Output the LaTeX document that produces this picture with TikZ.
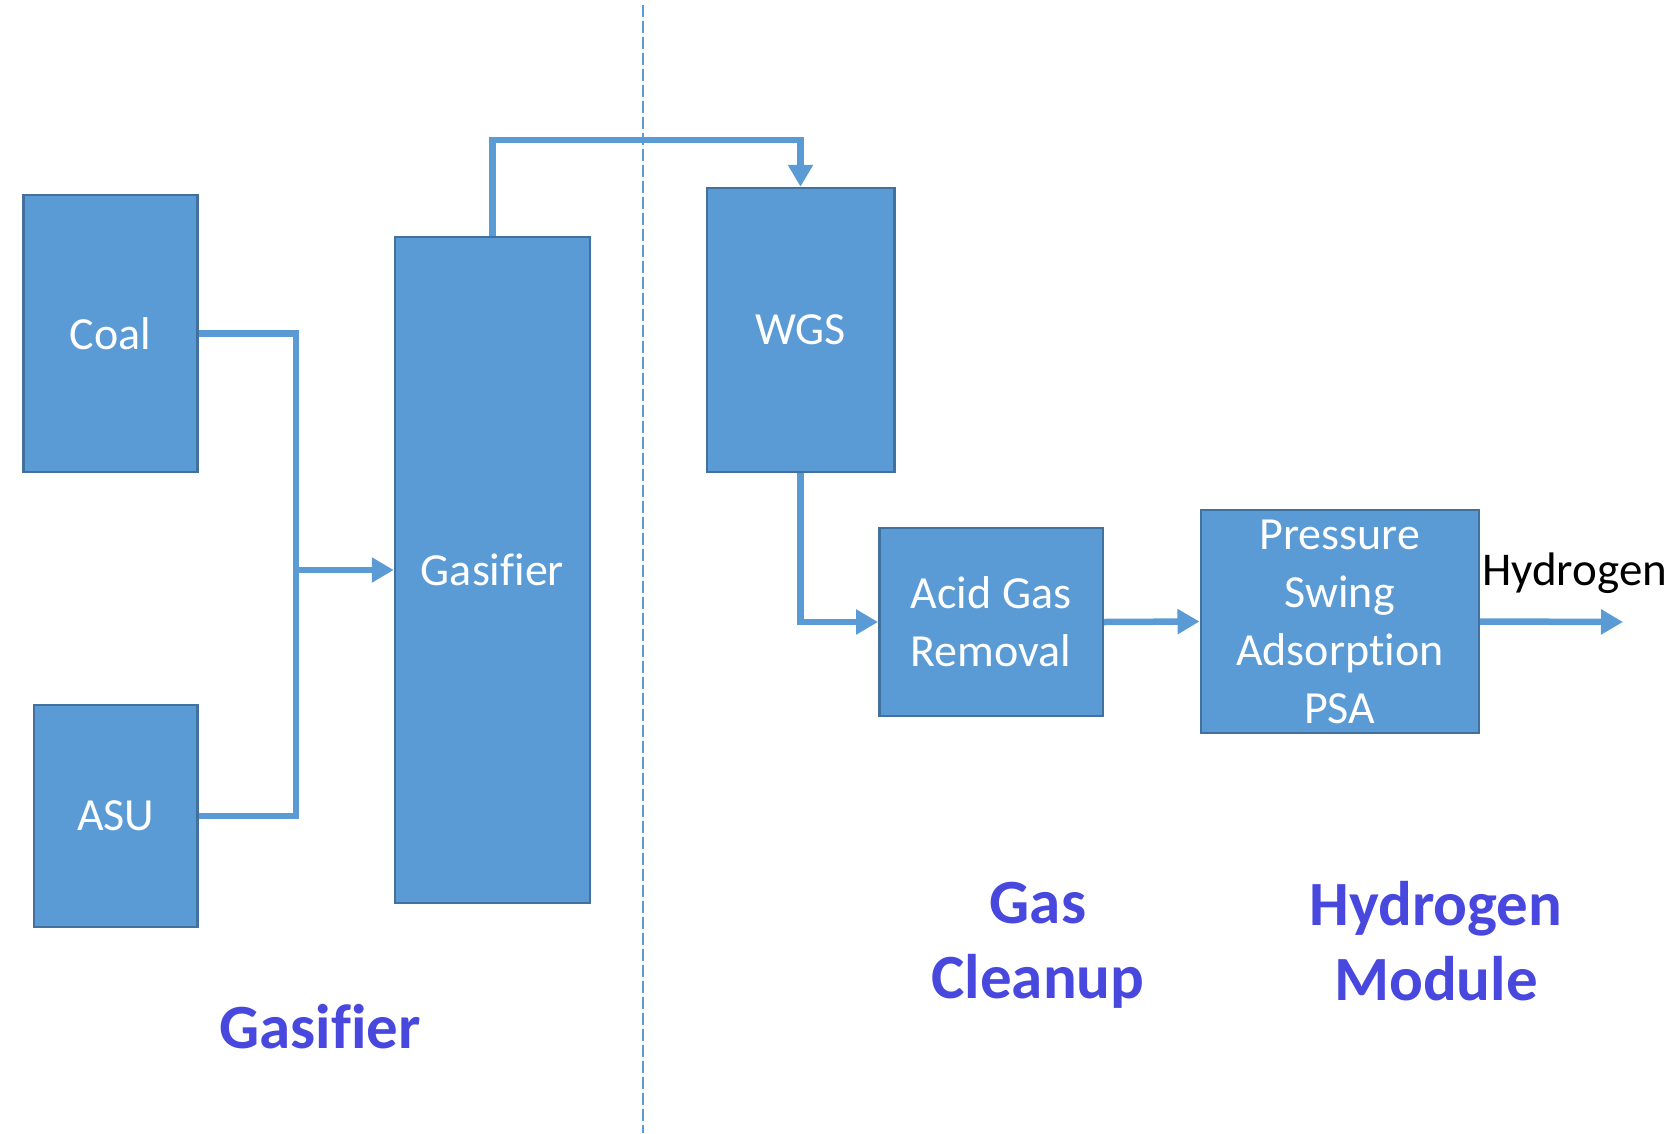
\documentclass[tikz,border=0pt]{standalone}
\usepackage{fontspec}
\setmainfont[Ligatures=NoCommon]{Carlito}
\usetikzlibrary{arrows.meta}
\definecolor{boxfill}{HTML}{5B9BD5}
\definecolor{boxline}{HTML}{41719C}
\definecolor{seclabel}{RGB}{72,72,222}
\tikzset{
  unit/.style={draw=boxline, line width=2.5pt, fill=boxfill, text=white, inner sep=0pt,
    align=center, font=\fontsize{46}{58}\selectfont},
  flow/.style={draw=boxfill, line width=6.5pt, line join=miter},
  flowarrow/.style={flow, -{Triangle[length=22pt,width=24pt]}},
  section/.style={text=seclabel, align=center, font=\bfseries\fontsize{63}{75}\selectfont},
  divider/.style={draw=boxfill, line width=1.8pt, dash pattern=on 12pt off 4pt}
}
\begin{document}
\begin{tikzpicture}[x=1pt,y=-1pt]
\useasboundingbox (0,0) rectangle (1674,1133);
% divider
\coordinate (dtop) at (643,5);
\coordinate (dbot) at (643,1133);
\draw[divider] (dtop) -- (dbot);
% units
\node[unit, minimum width=174pt, minimum height=277pt] (coal) at (110.5,333.5) {Coal};
\node[unit, minimum width=163.5pt, minimum height=222pt] (asu) at (115.75,816) {ASU};
\node[unit, minimum width=195pt, minimum height=666pt] (gas) at (492.5,570) {Gasifier};
\node[unit, minimum width=187.5pt, minimum height=284pt] (wgs) at (800.5,330) {WGS};
\node[unit, minimum width=223.5pt, minimum height=188pt] (agr) at (991,622) {Acid Gas\\Removal};
\node[unit, minimum width=278pt, minimum height=223pt] (psa) at (1339.75,621.5) {Pressure\\Swing\\Adsorption\\PSA};
% connectors
\coordinate (jn) at (296,570);
\draw[flow] (coal.east) -| (jn);
\draw[flow] (asu.east) -| (jn);
\draw[flowarrow] (jn) -- (gas.west);
\coordinate (tc) at (646,140);
\draw[flowarrow] (gas.north) |- (tc) -| (wgs.north);
\draw[flowarrow] (wgs.south) |- (agr.west);
\draw[flowarrow] (agr.east) -- (psa.west);
\coordinate (h2) at (1623,622);
\draw[flowarrow] (psa.east) -- (h2);
\node[font=\fontsize{47}{52}\selectfont, text=black, anchor=west, inner sep=0pt] (h2lbl) at (1482,573) {Hydrogen};
% section labels
\node[section] (secgas) at (320,1027) {Gasifier};
\node[section] (secclean) at (1038,945) {Gas\\Cleanup};
\node[section] (sech2) at (1436,941) {Hydrogen\\Module};
\end{tikzpicture}
\end{document}
